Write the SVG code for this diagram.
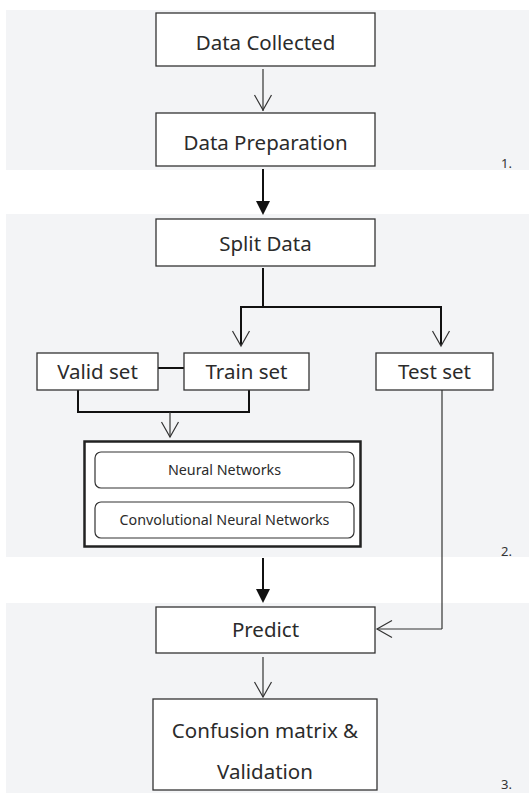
<svg xmlns="http://www.w3.org/2000/svg" width="529" height="793" viewBox="0 0 529 793">
<style>
.panel{fill:#f3f4f6}
.box{fill:#fff;stroke:#333;stroke-width:1.3}
.rbox{fill:#fff;stroke:#333;stroke-width:1.2}
.t{font-family:"Noto Sans","Open Sans",sans-serif;fill:#2b2b2b;text-anchor:middle;dominant-baseline:central}
.big{font-size:20.5px}
.small{font-size:14.3px}
.num{font-family:"Noto Sans",sans-serif;font-size:13px;fill:#333}
.thin{fill:none;stroke:#333;stroke-width:1.2}
.thick{fill:none;stroke:#111;stroke-width:2}
.head{fill:none;stroke:#333;stroke-width:1.2}
.fhead{fill:#111}
</style>
<rect width="529" height="793" fill="#fff"/>
<rect class="panel" x="6" y="10" width="523" height="160"/>
<rect class="panel" x="6" y="214" width="523" height="343"/>
<rect class="panel" x="6" y="603" width="523" height="190"/>
<text class="num" x="501" y="168">1.</text>
<text class="num" x="501" y="556">2.</text>
<text class="num" x="501" y="789">3.</text>

<g id="connectors">
<line class="thin" x1="263" y1="69" x2="263" y2="111"/>
<polyline class="head" points="254.5,95 263,110 271.5,95"/>
<line class="thick" x1="263" y1="169" x2="263" y2="203"/>
<polygon class="fhead" points="256,201 270,201 263,215"/>
<polyline class="thick" points="263,268 263,307"/>
<polyline class="thick" points="241,345 241,307 441,307 441,345"/>
<polyline class="head" points="232.5,331 241,346 249.5,331"/>
<polyline class="head" points="432.5,331 441,346 449.5,331"/>
<line class="thick" x1="158" y1="368" x2="184" y2="368"/>
<polyline class="thick" points="78,390 78,412 249,412 249,390"/>
<line class="thin" x1="170" y1="412" x2="170" y2="437"/>
<polyline class="head" points="161.5,422 170,437 178.5,422"/>
<line class="thin" x1="442" y1="390" x2="442" y2="629"/>
<polyline class="thin" points="442,629 377,629"/>
<polyline class="head" points="392,620.5 377,629 392,637.5"/>
<line class="thick" x1="263" y1="558" x2="263" y2="591"/>
<polygon class="fhead" points="256,589 270,589 263,603"/>
<line class="thin" x1="263" y1="657" x2="263" y2="697"/>
<polyline class="head" points="254.5,682 263,697 271.5,682"/>
</g>

<g id="data-collected">
<rect class="box" x="156" y="13" width="219" height="53"/>
<text class="t big" x="265.5" y="42">Data Collected</text>
</g>
<g id="data-preparation">
<rect class="box" x="156" y="113" width="219" height="53"/>
<text class="t big" x="265.5" y="142">Data Preparation</text>
</g>
<g id="split-data">
<rect class="box" x="156" y="219" width="219" height="47"/>
<text class="t big" x="265.5" y="243">Split Data</text>
</g>
<g id="valid-set">
<rect class="box" x="37" y="353" width="121" height="37"/>
<text class="t big" x="97.5" y="371">Valid set</text>
</g>
<g id="train-set">
<rect class="box" x="184" y="353" width="125" height="37"/>
<text class="t big" x="246.5" y="371">Train set</text>
</g>
<g id="test-set">
<rect class="box" x="376" y="353" width="117" height="37"/>
<text class="t big" x="434.5" y="371">Test set</text>
</g>
<g id="models">
<rect x="84.5" y="441.5" width="276" height="105" fill="#fff" stroke="#222" stroke-width="2.5"/>
<rect class="rbox" x="95" y="452" width="259" height="36" rx="6"/>
<text class="t small" x="224.5" y="469">Neural Networks</text>
<rect class="rbox" x="95" y="502" width="259" height="36" rx="6"/>
<text class="t small" x="224.5" y="519">Convolutional Neural Networks</text>
</g>
<g id="predict">
<rect class="box" x="156" y="607" width="219" height="46"/>
<text class="t big" x="265.5" y="629">Predict</text>
</g>
<g id="confusion">
<rect class="box" x="153" y="699" width="224" height="91"/>
<text class="t big" x="265" y="730">Confusion matrix &amp;</text>
<text class="t big" x="265" y="771">Validation</text>
</g>
</svg>
